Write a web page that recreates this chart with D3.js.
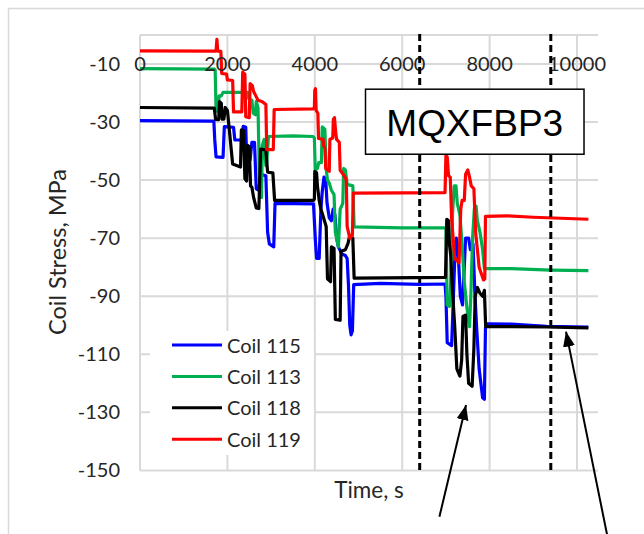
<!DOCTYPE html>
<html>
<head>
<meta charset="utf-8">
<script src="https://cdn.jsdelivr.net/npm/d3@7"></script>
<style>
  body { margin: 0; background: #fff; }
  svg { display: block; }
</style>
</head>
<body>
<script>
// ---- data ----
const xTicks = [0, 2000, 4000, 6000, 8000, 10000];
const yTicks = [-150, -130, -110, -90, -70, -50, -30, -10];
const seriesNames = ["Coil 115", "Coil 113", "Coil 118", "Coil 119"];
const seriesColors = ["#0000ff", "#00b050", "#000000", "#ff0000"];

// [time s, stress MPa]
const coil115 = [
  [0,-29.5],[1690,-29.7],[1710,-36],[1740,-42],[1900,-42.2],[1930,-31.6],[2140,-31.8],[2170,-36.2],
  [2340,-36.2],[2360,-31.5],[2420,-31.8],[2440,-42],[2520,-43],[2560,-37],[2620,-37],[2660,-53],
  [2720,-53.5],[2760,-48],[2880,-48.5],[2920,-68],[2960,-72],[3060,-73],[3090,-58],[3970,-58.2],
  [4010,-70],[4040,-77],[4100,-77],[4140,-60],[4170,-54],[4210,-49],[4250,-50],[4280,-58],
  [4330,-63],[4380,-64],[4420,-60],[4460,-62],[4500,-70],[4540,-73],[4620,-75.5],[4700,-76],
  [4740,-77],[4770,-86],[4800,-100],[4830,-103.3],[4860,-102],[4890,-86],[5500,-85.6],[6400,-85.9],
  [6980,-85.8],[7000,-90],[7030,-106],[7130,-107],[7160,-95],[7200,-78],[7240,-70],[7280,-75],
  [7330,-90],[7380,-93],[7420,-80],[7450,-70],[7520,-70],[7560,-74],[7620,-72],[7660,-88],
  [7700,-100],[7760,-115],[7840,-125],[7880,-125.5],[7905,-101],[7950,-99.5],[8500,-99.6],
  [9300,-100.4],[10260,-100.6]
];
const coil113 = [
  [0,-11.6],[1700,-11.8],[1720,-12],[1740,-26],[1790,-26.5],[1810,-21],[1860,-21],[1900,-19.8],
  [2460,-19.8],[2490,-22],[2560,-22.5],[2590,-27],[2640,-27.5],[2660,-23],[2700,-25],[2720,-40],
  [2740,-56],[2780,-56],[2800,-38],[2840,-36],[2880,-45],[2900,-44],[2940,-35],[3500,-34.8],
  [3960,-35],[3990,-35.5],[4010,-46.5],[4060,-46],[4090,-44],[4150,-44],[4170,-31.7],[4230,-32.5],
  [4260,-46],[4290,-50],[4330,-51],[4380,-53.5],[4440,-55],[4470,-68],[4540,-73],[4580,-60],
  [4640,-58],[4660,-46],[4700,-46.5],[4740,-51.5],[4870,-52],[4900,-66.1],[6000,-66.5],[7000,-66.5],
  [7030,-93],[7080,-93.5],[7100,-90],[7150,-62],[7190,-52],[7230,-52],[7260,-58],[7320,-62],
  [7360,-70],[7420,-85],[7480,-94],[7540,-100.5],[7570,-90],[7610,-70],[7650,-60],[7690,-59],
  [7720,-64],[7780,-68],[7840,-74],[7880,-80.5],[8500,-80.5],[9400,-81],[10260,-81.2]
];
const coil118 = [
  [0,-25],[1700,-25.2],[1730,-29.1],[1800,-29.2],[1820,-23],[1860,-23.5],[1880,-29],[1920,-29],
  [1950,-25],[2000,-26],[2040,-32],[2120,-44.5],[2300,-45.5],[2320,-32.7],[2370,-33],[2400,-49.5],
  [2440,-50.3],[2460,-38],[2500,-38.5],[2530,-52],[2560,-52.5],[2600,-56],[2660,-59.6],[2720,-59.8],
  [2760,-39.3],[2880,-39.7],[2920,-47.3],[3040,-47.5],[3080,-57],[3970,-57],[3990,-56.5],[4000,-47],
  [4040,-47.5],[4060,-52],[4100,-57],[4140,-60],[4200,-63],[4260,-66],[4290,-84],[4360,-85],
  [4380,-73],[4440,-73.5],[4470,-98],[4580,-98.3],[4600,-74.5],[4700,-74],[4760,-71.8],[4800,-69],
  [4870,-70],[4900,-83.8],[6990,-83.5],[7020,-63.5],[7060,-64],[7080,-72],[7110,-76],[7150,-88],
  [7200,-100],[7250,-115],[7320,-117.5],[7360,-112],[7390,-97],[7450,-96.5],[7480,-110],[7520,-120],
  [7600,-121],[7640,-108],[7670,-90],[7720,-87],[7780,-89],[7840,-90],[7880,-88],[7910,-100.5],
  [8500,-100.5],[9300,-100.6],[10260,-100.9]
];
const coil119 = [
  [0,-5.5],[1700,-5.6],[1740,-5.6],[1760,-1.5],[1780,-5.6],[1850,-5.7],[1870,-13.3],[1980,-13.5],
  [2000,-15.5],[2120,-15.7],[2140,-26.5],[2330,-26.5],[2350,-12.8],[2400,-13.5],[2420,-28.2],
  [2500,-28.5],[2520,-16.8],[2570,-17.5],[2600,-19.5],[2650,-21],[2700,-22.5],[2800,-23],
  [2880,-24],[2900,-39.5],[3050,-39.5],[3070,-25.7],[3960,-25.5],[3990,-25],[4000,-19],[4015,-18.5],
  [4030,-26],[4070,-27],[4085,-35.7],[4190,-36],[4200,-38],[4230,-39],[4250,-46],[4330,-47],
  [4345,-36],[4410,-35.5],[4425,-29],[4450,-28.5],[4480,-34],[4500,-36],[4560,-37],[4580,-46.6],
  [4690,-48.9],[4720,-50],[4740,-66],[4800,-70],[4860,-69],[4880,-54.5],[6000,-54.4],[6980,-54.3],
  [7000,-41.4],[7030,-42],[7060,-48.5],[7100,-49],[7130,-63],[7200,-77],[7300,-78.5],[7340,-60],
  [7370,-57],[7420,-57],[7450,-48],[7500,-46.5],[7540,-49],[7580,-52],[7640,-53],[7680,-68],
  [7760,-80],[7860,-84.4],[7890,-84],[7905,-62.5],[8400,-62.3],[9000,-62.8],[10260,-63.5]
];
const seriesData = [coil115, coil113, coil118, coil119];

// annotations in data units
const dashedTimes = [6400, 9400];
const boxLabel = "MQXFBP3";
const boxExtent = [5160, 10160, -18.7, -41.1];      // t0, t1, vTop, vBottom
const arrows = [                                    // tail t, tail v, tip t, tip v
  [6851, -166, 7460, -127.5],
  [10686, -172, 9748, -102.2]
];

// ---- layout ----
const W = 644, H = 534;
const x = d3.scaleLinear().domain([0, 10480]).range([140, 598]);
const y = d3.scaleLinear().domain([-150, 0]).range([470.4, 34.9]);

const svg = d3.select("body").append("svg")
  .attr("width", W).attr("height", H);

svg.append("defs").append("marker")
  .attr("id", "head")
  .attr("markerUnits", "userSpaceOnUse")
  .attr("markerWidth", 15).attr("markerHeight", 12)
  .attr("refX", 15).attr("refY", 6)
  .attr("orient", "auto")
  .append("path").attr("d", "M0,0L15,6L0,12Z").attr("fill", "#000");

// chart area border (cut off by the image edge)
svg.append("rect")
  .attr("x", 8.5).attr("y", 8.5).attr("width", 700).attr("height", 600)
  .attr("fill", "none").attr("stroke", "#d9d9d9").attr("stroke-width", 1.5);

const grid = svg.append("g").attr("stroke", "#d9d9d9").attr("stroke-width", 2);
grid.selectAll(".hg")
  .data(yTicks.concat([0]))
  .enter().append("line")
  .attr("x1", x.range()[0]).attr("x2", x.range()[1])
  .attr("y1", d => y(d)).attr("y2", d => y(d));
grid.selectAll(".vg")
  .data(xTicks)
  .enter().append("line")
  .attr("x1", d => x(d)).attr("x2", d => x(d))
  .attr("y1", y(0)).attr("y2", y(-150));

// series
const line = d3.line().x(d => x(d[0])).y(d => y(d[1]));
svg.selectAll(".series")
  .data(seriesData)
  .enter().append("path")
  .attr("fill", "none")
  .attr("stroke", (d, i) => seriesColors[i])
  .attr("stroke-width", 3.2)
  .attr("stroke-linejoin", "round")
  .attr("d", line);

// axis tick labels
const font = "Lato, 'Open Sans', sans-serif";
const textColor = "#262626";
svg.selectAll(".yl")
  .data(yTicks)
  .enter().append("text")
  .attr("x", 120).attr("y", d => y(d) + 6.8)
  .attr("text-anchor", "end")
  .attr("font-family", font).attr("font-size", 20).attr("fill", textColor)
  .text(d => d);
svg.selectAll(".xl")
  .data(xTicks)
  .enter().append("text")
  .attr("x", d => x(d)).attr("y", y(-10) + 7.2)
  .attr("text-anchor", "middle")
  .attr("font-family", font).attr("font-size", 20).attr("fill", textColor)
  .text(d => d);

// axis titles
svg.append("text")
  .attr("transform", "translate(65.5,252) rotate(-90)")
  .attr("text-anchor", "middle")
  .attr("font-family", font).attr("font-size", 23.5).attr("fill", textColor)
  .text("Coil Stress, MPa");
svg.append("text")
  .attr("x", 369).attr("y", 498)
  .attr("text-anchor", "middle")
  .attr("font-family", font).attr("font-size", 22.5).attr("fill", textColor)
  .text("Time, s");

// legend
const legend = svg.append("g");
legend.append("rect")
  .attr("x", 150).attr("y", 331).attr("width", 164).attr("height", 124)
  .attr("fill", "#fff");
seriesNames.forEach((name, i) => {
  const ly = 345 + i * 31.4;
  legend.append("line")
    .attr("x1", 172).attr("x2", 222).attr("y1", ly).attr("y2", ly)
    .attr("stroke", seriesColors[i]).attr("stroke-width", 3);
  legend.append("text")
    .attr("x", 227).attr("y", ly + 7.5)
    .attr("font-family", font).attr("font-size", 20).attr("fill", textColor)
    .text(name);
});

// dashed markers
svg.selectAll(".dash")
  .data(dashedTimes)
  .enter().append("line")
  .attr("x1", d => x(d)).attr("x2", d => x(d))
  .attr("y1", y(0) - 1).attr("y2", y(-150) + 1)
  .attr("stroke", "#000").attr("stroke-width", 3)
  .attr("stroke-dasharray", "7,4");

// label box
svg.append("rect")
  .attr("x", x(boxExtent[0])).attr("y", y(boxExtent[2]))
  .attr("width", x(boxExtent[1]) - x(boxExtent[0]))
  .attr("height", y(boxExtent[3]) - y(boxExtent[2]))
  .attr("fill", "#fff").attr("stroke", "#000").attr("stroke-width", 1.5);
svg.append("text")
  .attr("x", (x(boxExtent[0]) + x(boxExtent[1])) / 2)
  .attr("y", y(boxExtent[3]) - 18.5)
  .attr("text-anchor", "middle")
  .attr("font-family", "'Liberation Sans', Arial, sans-serif")
  .attr("font-size", 37).attr("fill", "#000")
  .text(boxLabel);

// arrows
svg.selectAll(".arrow")
  .data(arrows)
  .enter().append("line")
  .attr("x1", d => x(d[0])).attr("y1", d => y(d[1]))
  .attr("x2", d => x(d[2])).attr("y2", d => y(d[3]))
  .attr("stroke", "#000").attr("stroke-width", 2)
  .attr("marker-end", "url(#head)");
</script>
</body>
</html>
